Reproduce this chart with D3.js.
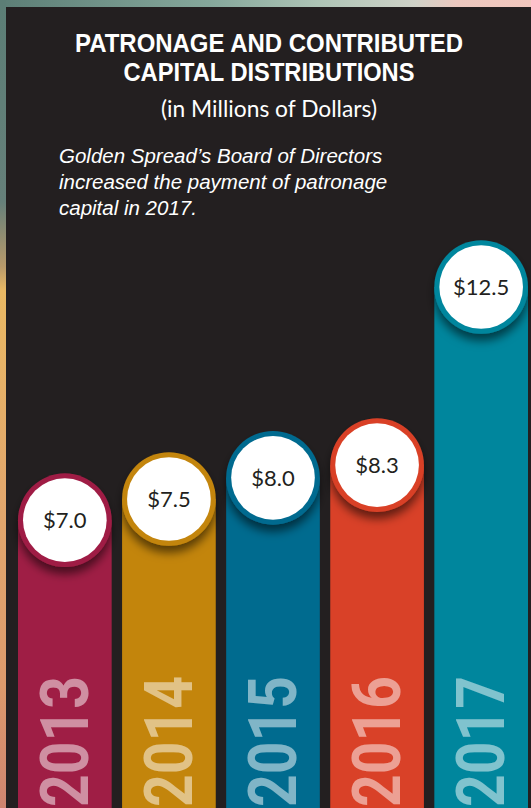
<!DOCTYPE html>
<html>
<head>
<meta charset="utf-8">
<script src="https://cdn.jsdelivr.net/npm/d3@7"></script>
<style>
  html, body { margin: 0; padding: 0; background: #231f20; }
  svg { display: block; }
</style>
</head>
<body>
<div id="chart"></div>
<script>
const WIDTH = 531;
const HEIGHT = 808;

// data
const years = ['2013', '2014', '2015', '2016', '2017'];
const values = [7.0, 7.5, 8.0, 8.3, 12.5];
const valueLabels = ['$7.0', '$7.5', '$8.0', '$8.3', '$12.5'];
const barColors = ['#9f1e45', '#c3850c', '#006b8f', '#d94128', '#00869d'];

const titleLines = ['PATRONAGE AND CONTRIBUTED', 'CAPITAL DISTRIBUTIONS'];
const subtitle = '(in Millions of Dollars)';
const noteLines = [
  'Golden Spread\u2019s Board of Directors',
  'increased the payment of patronage',
  'capital in 2017.'
];

let svg = d3.select('#chart').append('svg')
    .attr('width', WIDTH)
    .attr('height', HEIGHT);

let defs = svg.append('defs');

// the colourful frame peeking out round the dark panel
let topGrad = defs.append('linearGradient').attr('id', 'topEdge')
    .attr('x1', 0).attr('x2', 1).attr('y1', 0).attr('y2', 0);
topGrad.selectAll('stop')
    .data([[0, '#5c7e76'], [0.4, '#86a89c'], [0.6, '#aec4b6'], [0.78, '#cfd2c8'], [0.86, '#ecc8bf'], [1, '#f1c6bd']])
    .join('stop')
    .attr('offset', d => d[0])
    .attr('stop-color', d => d[1]);

let leftGrad = defs.append('linearGradient').attr('id', 'leftEdge')
    .attr('x1', 0).attr('x2', 0).attr('y1', 0).attr('y2', 1);
leftGrad.selectAll('stop')
    .data([[0, '#5c7e76'], [0.25, '#66807a'], [0.33, '#b89a6a'], [0.36, '#eab964'], [0.6, '#e2a86c'], [0.85, '#dd9a6c'], [1, '#cf8470']])
    .join('stop')
    .attr('offset', d => d[0])
    .attr('stop-color', d => d[1]);

let shadow = defs.append('filter').attr('id', 'shadow')
    .attr('x', '-30%').attr('y', '-30%').attr('width', '160%').attr('height', '170%');
shadow.append('feDropShadow')
    .attr('dx', 0).attr('dy', 7)
    .attr('stdDeviation', 5)
    .attr('flood-color', '#000')
    .attr('flood-opacity', 0.55);

svg.append('rect')
    .attr('width', WIDTH).attr('height', 7)
    .attr('fill', 'url(#topEdge)');
svg.append('rect')
    .attr('width', 6).attr('height', HEIGHT)
    .attr('fill', 'url(#leftEdge)');
svg.append('rect')
    .attr('x', 6).attr('y', 7)
    .attr('width', WIDTH - 6).attr('height', HEIGHT - 7)
    .attr('fill', '#231f20');

// headings
let titleWidths = [388, 291];
svg.selectAll('text.title')
    .data(titleLines)
    .join('text')
    .attr('class', 'title')
    .attr('x', 269)
    .attr('y', (d, i) => 52 + i * 29)
    .attr('text-anchor', 'middle')
    .attr('textLength', (d, i) => titleWidths[i])
    .attr('lengthAdjust', 'spacingAndGlyphs')
    .attr('fill', '#ffffff')
    .style('font-family', '"Liberation Sans", Arial, sans-serif')
    .style('font-weight', 700)
    .style('font-size', '25.5px')
    .text(d => d);

svg.append('text')
    .attr('x', 269)
    .attr('y', 117)
    .attr('text-anchor', 'middle')
    .attr('textLength', 216)
    .attr('lengthAdjust', 'spacingAndGlyphs')
    .attr('fill', '#ffffff')
    .style('font-family', 'Lato, sans-serif')
    .style('font-size', '23px')
    .text(subtitle);

svg.selectAll('text.note')
    .data(noteLines)
    .join('text')
    .attr('class', 'note')
    .attr('x', 59)
    .attr('y', (d, i) => 163 + i * 26)
    .attr('fill', '#ffffff')
    .style('font-family', '"Liberation Sans", Arial, sans-serif')
    .style('font-style', 'italic')
    .style('font-size', '20.5px')
    .text(d => d);

// scales
let xScale = d3.scaleBand()
    .domain(years)
    .range([18, 528])
    .paddingInner(0.1)
    .paddingOuter(0);

let yScale = d3.scaleLinear()
    .domain([0, 12.5])
    .range([817, 287]);

const r = xScale.bandwidth() / 2;

let bars = svg.append('g').selectAll('g.bar')
    .data(years)
    .join('g')
    .attr('class', 'bar');

bars.append('rect')
    .attr('x', d => xScale(d))
    .attr('y', (d, i) => yScale(values[i]))
    .attr('width', xScale.bandwidth())
    .attr('height', (d, i) => HEIGHT - yScale(values[i]))
    .attr('fill', (d, i) => barColors[i]);

// year, reading upward along the bar
bars.append('text')
    .attr('transform', d => 'translate(' + (xScale(d) + r + 23) + ',' + 807 + ') rotate(-90)')
    .attr('textLength', 131)
    .attr('lengthAdjust', 'spacingAndGlyphs')
    .attr('fill', '#ffffff')
    .attr('fill-opacity', 0.5)
    .style('font-family', 'Roboto, sans-serif')
    .style('font-weight', 700)
    .style('font-size', '67px')
    .text(d => d);

let bubbles = bars.append('g')
    .attr('transform', (d, i) => 'translate(' + (xScale(d) + r) + ',' + yScale(values[i]) + ')');

bubbles.append('circle')
    .attr('r', r)
    .attr('fill', (d, i) => barColors[i])
    .attr('filter', 'url(#shadow)');

bubbles.append('circle')
    .attr('r', r - 5)
    .attr('fill', '#ffffff');

bubbles.append('text')
    .attr('text-anchor', 'middle')
    .attr('dy', '0.35em')
    .attr('fill', '#231f20')
    .style('font-family', 'Lato, sans-serif')
    .style('font-size', '22px')
    .text((d, i) => valueLabels[i]);
</script>
</body>
</html>
